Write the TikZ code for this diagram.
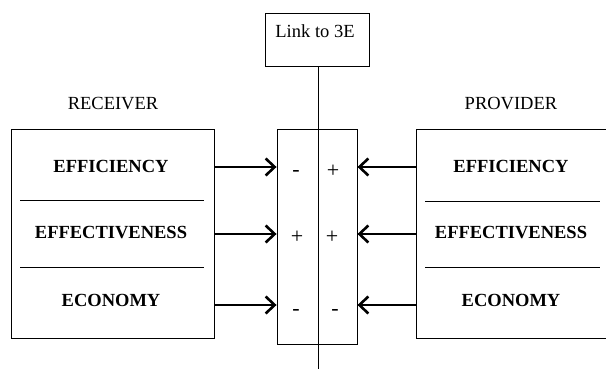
\documentclass[tikz,border=0pt]{standalone}
\usepackage{fontspec}
\setmainfont{Liberation Serif}
\usetikzlibrary{arrows.meta}

\begin{document}
\begin{tikzpicture}[x=1pt,y=-1pt,line width=0.9pt,
   boite/.style={draw,rectangle,inner sep=0pt},
   critere/.style={font=\fontsize{18.5}{22}\selectfont\bfseries},
   titre/.style={font=\fontsize{18.5}{22}\selectfont},
   signe/.style={font=\fontsize{22}{26}\selectfont,inner sep=0pt},
   fleche/.style={line width=2.8pt,-{Straight Barb[length=9pt,width=17pt,line width=2.6pt]}}]
  \useasboundingbox (0,0) rectangle (606,369);

  \node[boite,minimum width=104pt,minimum height=53pt](lien) at (317,39.5) {};
  \node[titre](lientxt) at (315,31) {Link to 3E};
  \node[boite,minimum width=203pt,minimum height=209pt](recv) at (112.5,233.5) {};
  \node[boite,minimum width=80pt,minimum height=215pt](mid) at (317,236.5) {};
  \node[boite,minimum width=200pt,minimum height=209pt](prov) at (516,233.5) {};

  \node[titre](recvtxt) at (113,104) {RECEIVER};
  \node[titre](provtxt) at (511,104) {PROVIDER};

  \foreach \nom/\x in {g/111,d/511} {
    \node[critere](eff\nom) at (\x,166) {EFFICIENCY};
    \node[critere](efv\nom) at (\x,233) {EFFECTIVENESS};
    \node[critere](eco\nom) at (\x,300) {ECONOMY};
  }

  \coordinate (sg1) at (20,200);  \coordinate (sg2) at (204,200);
  \coordinate (sg3) at (20,267);  \coordinate (sg4) at (204,267);
  \coordinate (sd1) at (425,201); \coordinate (sd2) at (600,201);
  \coordinate (sd3) at (425,267); \coordinate (sd4) at (600,267);
  \draw (sg1) -- (sg2); \draw (sg3) -- (sg4);
  \draw (sd1) -- (sd2); \draw (sd3) -- (sd4);

  \coordinate (bas) at (318,369);
  \draw (lien.south -| bas) -- (bas);

  \foreach \r/\y in {1/167,2/234,3/305} {
    \coordinate (r\r) at (0,\y);
    \draw[fleche] (recv.east |- r\r) -- (mid.west |- r\r);
    \draw[fleche] (prov.west |- r\r) -- (mid.east |- r\r);
  }

  \foreach \n/\x/\y/\s in {a/296/173/-,b/333/171/+,c/297/237/+,d/332/237/+,e/296/312/-,f/335/312/-}
    \node[signe](sig\n) at (\x,\y) {\s};
\end{tikzpicture}
\end{document}
